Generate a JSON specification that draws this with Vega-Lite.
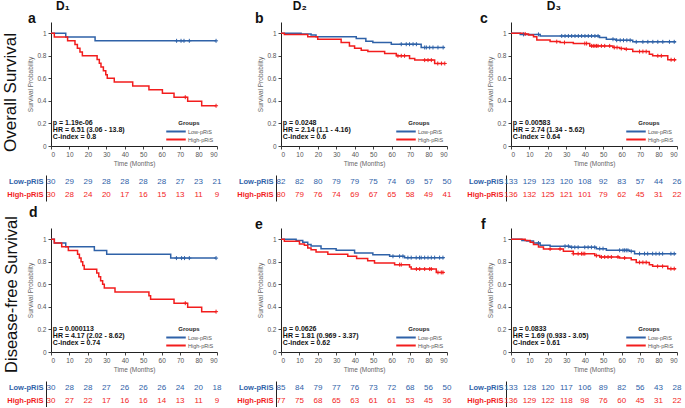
{
  "$schema": "https://vega.github.io/schema/vega-lite/v6.json",
  "padding": {"left": 0, "top": 0, "right": 0, "bottom": 0},
  "config": {
    "font": "Liberation Sans",
    "view": {"stroke": null},
    "axis": {"grid": false, "labelFontSize": 6.5, "labelColor": "#555", "titleFontSize": 6.5, "titleFontWeight": "normal", "titleColor": "#666", "domainColor": "#222", "tickColor": "#444", "tickSize": 3, "labelPadding": 2, "titlePadding": 3},
    "legend": {"orient": "bottom-right", "offset": 3, "titleFontSize": 6, "titleFontWeight": "bold", "titleColor": "#222", "labelFontSize": 5.5, "labelColor": "#555", "symbolType": "stroke", "symbolSize": 380, "symbolStrokeWidth": 2, "clipHeight": 7, "rowPadding": 1, "titlePadding": 2, "titleAnchor": "middle", "labelOffset": 1, "padding": 0},
    "title": {"color": "#111"}
  },
  "datasets": {
    "km": [
      {"p":"a","g":"Low-pRiS","t":0,"s":1},{"p":"a","g":"Low-pRiS","t":8,"s":0.967},{"p":"a","g":"Low-pRiS","t":23.9,"s":0.933},{"p":"a","g":"Low-pRiS","t":89.5,"s":0.933},
      {"p":"a","g":"High-pRiS","t":0,"s":1},{"p":"a","g":"High-pRiS","t":1.8,"s":0.967},{"p":"a","g":"High-pRiS","t":9,"s":0.933},{"p":"a","g":"High-pRiS","t":13,"s":0.9},{"p":"a","g":"High-pRiS","t":14.3,"s":0.867},{"p":"a","g":"High-pRiS","t":15.7,"s":0.833},{"p":"a","g":"High-pRiS","t":17,"s":0.8},{"p":"a","g":"High-pRiS","t":25,"s":0.767},{"p":"a","g":"High-pRiS","t":26.2,"s":0.733},{"p":"a","g":"High-pRiS","t":27.1,"s":0.7},{"p":"a","g":"High-pRiS","t":28.4,"s":0.667},{"p":"a","g":"High-pRiS","t":29.7,"s":0.633},{"p":"a","g":"High-pRiS","t":30.5,"s":0.6},{"p":"a","g":"High-pRiS","t":34.3,"s":0.567},{"p":"a","g":"High-pRiS","t":44.3,"s":0.533},{"p":"a","g":"High-pRiS","t":53.1,"s":0.5},{"p":"a","g":"High-pRiS","t":60.4,"s":0.467},{"p":"a","g":"High-pRiS","t":66.7,"s":0.433},{"p":"a","g":"High-pRiS","t":74.1,"s":0.397},{"p":"a","g":"High-pRiS","t":81.7,"s":0.357},{"p":"a","g":"High-pRiS","t":89.5,"s":0.357},
      {"p":"d","g":"Low-pRiS","t":0,"s":1},{"p":"d","g":"Low-pRiS","t":1.8,"s":0.967},{"p":"d","g":"Low-pRiS","t":8,"s":0.933},{"p":"d","g":"Low-pRiS","t":23.5,"s":0.9},{"p":"d","g":"Low-pRiS","t":30.2,"s":0.867},{"p":"d","g":"Low-pRiS","t":64.9,"s":0.833},{"p":"d","g":"Low-pRiS","t":89.5,"s":0.833},
      {"p":"d","g":"High-pRiS","t":0,"s":1},{"p":"d","g":"High-pRiS","t":1.8,"s":0.967},{"p":"d","g":"High-pRiS","t":5.8,"s":0.933},{"p":"d","g":"High-pRiS","t":9.4,"s":0.9},{"p":"d","g":"High-pRiS","t":14.4,"s":0.867},{"p":"d","g":"High-pRiS","t":15.4,"s":0.833},{"p":"d","g":"High-pRiS","t":16.3,"s":0.8},{"p":"d","g":"High-pRiS","t":17.2,"s":0.767},{"p":"d","g":"High-pRiS","t":18,"s":0.733},{"p":"d","g":"High-pRiS","t":24.8,"s":0.7},{"p":"d","g":"High-pRiS","t":25.9,"s":0.667},{"p":"d","g":"High-pRiS","t":26.9,"s":0.633},{"p":"d","g":"High-pRiS","t":28,"s":0.6},{"p":"d","g":"High-pRiS","t":28.9,"s":0.567},{"p":"d","g":"High-pRiS","t":34.7,"s":0.533},{"p":"d","g":"High-pRiS","t":53.1,"s":0.5},{"p":"d","g":"High-pRiS","t":54,"s":0.467},{"p":"d","g":"High-pRiS","t":66.7,"s":0.433},{"p":"d","g":"High-pRiS","t":74.1,"s":0.397},{"p":"d","g":"High-pRiS","t":81.7,"s":0.358},{"p":"d","g":"High-pRiS","t":89.5,"s":0.358},
      {"p":"b","g":"Low-pRiS","t":0,"s":1},{"p":"b","g":"Low-pRiS","t":10.9,"s":0.994},{"p":"b","g":"Low-pRiS","t":16.3,"s":0.985},{"p":"b","g":"Low-pRiS","t":19,"s":0.97},{"p":"b","g":"Low-pRiS","t":40.8,"s":0.953},{"p":"b","g":"Low-pRiS","t":46,"s":0.93},{"p":"b","g":"Low-pRiS","t":49.8,"s":0.918},{"p":"b","g":"Low-pRiS","t":59.8,"s":0.903},{"p":"b","g":"Low-pRiS","t":76,"s":0.874},{"p":"b","g":"Low-pRiS","t":88.8,"s":0.874},
      {"p":"b","g":"High-pRiS","t":0,"s":1},{"p":"b","g":"High-pRiS","t":1.8,"s":0.99},{"p":"b","g":"High-pRiS","t":14.5,"s":0.97},{"p":"b","g":"High-pRiS","t":19.9,"s":0.947},{"p":"b","g":"High-pRiS","t":32.6,"s":0.918},{"p":"b","g":"High-pRiS","t":37.1,"s":0.888},{"p":"b","g":"High-pRiS","t":39.9,"s":0.868},{"p":"b","g":"High-pRiS","t":43.5,"s":0.85},{"p":"b","g":"High-pRiS","t":47.1,"s":0.838},{"p":"b","g":"High-pRiS","t":56.2,"s":0.82},{"p":"b","g":"High-pRiS","t":62.5,"s":0.8},{"p":"b","g":"High-pRiS","t":69.7,"s":0.776},{"p":"b","g":"High-pRiS","t":72.5,"s":0.762},{"p":"b","g":"High-pRiS","t":83.3,"s":0.732},{"p":"b","g":"High-pRiS","t":88.8,"s":0.732},
      {"p":"e","g":"Low-pRiS","t":0,"s":1},{"p":"e","g":"Low-pRiS","t":8.2,"s":0.99},{"p":"e","g":"Low-pRiS","t":11.8,"s":0.973},{"p":"e","g":"Low-pRiS","t":14.5,"s":0.953},{"p":"e","g":"Low-pRiS","t":16.3,"s":0.94},{"p":"e","g":"Low-pRiS","t":21.7,"s":0.917},{"p":"e","g":"Low-pRiS","t":29.9,"s":0.902},{"p":"e","g":"Low-pRiS","t":39.9,"s":0.878},{"p":"e","g":"Low-pRiS","t":49.8,"s":0.863},{"p":"e","g":"Low-pRiS","t":58.9,"s":0.849},{"p":"e","g":"Low-pRiS","t":67,"s":0.837},{"p":"e","g":"Low-pRiS","t":88.5,"s":0.837},
      {"p":"e","g":"High-pRiS","t":0,"s":1},{"p":"e","g":"High-pRiS","t":1.8,"s":0.982},{"p":"e","g":"High-pRiS","t":10,"s":0.958},{"p":"e","g":"High-pRiS","t":12.7,"s":0.947},{"p":"e","g":"High-pRiS","t":14.5,"s":0.923},{"p":"e","g":"High-pRiS","t":16.3,"s":0.908},{"p":"e","g":"High-pRiS","t":19,"s":0.887},{"p":"e","g":"High-pRiS","t":25.4,"s":0.868},{"p":"e","g":"High-pRiS","t":36.2,"s":0.85},{"p":"e","g":"High-pRiS","t":41,"s":0.83},{"p":"e","g":"High-pRiS","t":47,"s":0.81},{"p":"e","g":"High-pRiS","t":50.7,"s":0.79},{"p":"e","g":"High-pRiS","t":61.6,"s":0.775},{"p":"e","g":"High-pRiS","t":69.7,"s":0.754},{"p":"e","g":"High-pRiS","t":70.6,"s":0.736},{"p":"e","g":"High-pRiS","t":84.2,"s":0.706},{"p":"e","g":"High-pRiS","t":88.5,"s":0.706},
      {"p":"c","g":"Low-pRiS","t":0,"s":1},{"p":"c","g":"Low-pRiS","t":5,"s":0.99},{"p":"c","g":"Low-pRiS","t":15.8,"s":0.976},{"p":"c","g":"Low-pRiS","t":48,"s":0.962},{"p":"c","g":"Low-pRiS","t":51.7,"s":0.947},{"p":"c","g":"Low-pRiS","t":57,"s":0.938},{"p":"c","g":"Low-pRiS","t":66,"s":0.924},{"p":"c","g":"Low-pRiS","t":89.5,"s":0.924},
      {"p":"c","g":"High-pRiS","t":0,"s":1},{"p":"c","g":"High-pRiS","t":6.8,"s":0.994},{"p":"c","g":"High-pRiS","t":9.5,"s":0.985},{"p":"c","g":"High-pRiS","t":12.2,"s":0.97},{"p":"c","g":"High-pRiS","t":14,"s":0.94},{"p":"c","g":"High-pRiS","t":21.2,"s":0.926},{"p":"c","g":"High-pRiS","t":26.6,"s":0.918},{"p":"c","g":"High-pRiS","t":33.8,"s":0.909},{"p":"c","g":"High-pRiS","t":42.7,"s":0.888},{"p":"c","g":"High-pRiS","t":55.3,"s":0.874},{"p":"c","g":"High-pRiS","t":58.9,"s":0.865},{"p":"c","g":"High-pRiS","t":61.6,"s":0.859},{"p":"c","g":"High-pRiS","t":66,"s":0.838},{"p":"c","g":"High-pRiS","t":75,"s":0.815},{"p":"c","g":"High-pRiS","t":76.8,"s":0.8},{"p":"c","g":"High-pRiS","t":85,"s":0.765},{"p":"c","g":"High-pRiS","t":89.5,"s":0.765},
      {"p":"f","g":"Low-pRiS","t":0,"s":1},{"p":"f","g":"Low-pRiS","t":5.9,"s":0.99},{"p":"f","g":"Low-pRiS","t":8.6,"s":0.985},{"p":"f","g":"Low-pRiS","t":12.2,"s":0.967},{"p":"f","g":"Low-pRiS","t":15.8,"s":0.947},{"p":"f","g":"Low-pRiS","t":21.2,"s":0.938},{"p":"f","g":"Low-pRiS","t":32,"s":0.929},{"p":"f","g":"Low-pRiS","t":46.3,"s":0.917},{"p":"f","g":"Low-pRiS","t":51.7,"s":0.902},{"p":"f","g":"Low-pRiS","t":64.3,"s":0.893},{"p":"f","g":"Low-pRiS","t":67,"s":0.872},{"p":"f","g":"Low-pRiS","t":89.5,"s":0.872},
      {"p":"f","g":"High-pRiS","t":0,"s":1},{"p":"f","g":"High-pRiS","t":7.7,"s":0.99},{"p":"f","g":"High-pRiS","t":10.4,"s":0.973},{"p":"f","g":"High-pRiS","t":12.2,"s":0.953},{"p":"f","g":"High-pRiS","t":14.9,"s":0.932},{"p":"f","g":"High-pRiS","t":17.6,"s":0.914},{"p":"f","g":"High-pRiS","t":28.4,"s":0.893},{"p":"f","g":"High-pRiS","t":33.8,"s":0.872},{"p":"f","g":"High-pRiS","t":45.4,"s":0.855},{"p":"f","g":"High-pRiS","t":48.1,"s":0.843},{"p":"f","g":"High-pRiS","t":58.9,"s":0.834},{"p":"f","g":"High-pRiS","t":65.2,"s":0.819},{"p":"f","g":"High-pRiS","t":67.9,"s":0.795},{"p":"f","g":"High-pRiS","t":75,"s":0.774},{"p":"f","g":"High-pRiS","t":76.8,"s":0.76},{"p":"f","g":"High-pRiS","t":85,"s":0.739},{"p":"f","g":"High-pRiS","t":89.5,"s":0.739}
    ],
    "cens": [
      {"p":"a","g":"Low-pRiS","t":68.1,"s":0.933},{"p":"a","g":"Low-pRiS","t":70.5,"s":0.933},{"p":"a","g":"Low-pRiS","t":72.1,"s":0.933},{"p":"a","g":"Low-pRiS","t":75,"s":0.933},{"p":"a","g":"Low-pRiS","t":89.5,"s":0.933},
      {"p":"a","g":"High-pRiS","t":72.8,"s":0.433},{"p":"a","g":"High-pRiS","t":89.5,"s":0.357},
      {"p":"d","g":"Low-pRiS","t":68,"s":0.833},{"p":"d","g":"Low-pRiS","t":70.8,"s":0.833},{"p":"d","g":"Low-pRiS","t":72.4,"s":0.833},{"p":"d","g":"Low-pRiS","t":75,"s":0.833},{"p":"d","g":"Low-pRiS","t":89.5,"s":0.833},
      {"p":"d","g":"High-pRiS","t":72.8,"s":0.433},{"p":"d","g":"High-pRiS","t":89.5,"s":0.358},
      {"p":"b","g":"Low-pRiS","t":65.2,"s":0.903},{"p":"b","g":"Low-pRiS","t":67.9,"s":0.903},{"p":"b","g":"Low-pRiS","t":69.7,"s":0.903},{"p":"b","g":"Low-pRiS","t":71.6,"s":0.903},{"p":"b","g":"Low-pRiS","t":73.4,"s":0.903},{"p":"b","g":"Low-pRiS","t":77.9,"s":0.874},{"p":"b","g":"Low-pRiS","t":78.8,"s":0.874},{"p":"b","g":"Low-pRiS","t":80.6,"s":0.874},{"p":"b","g":"Low-pRiS","t":82.4,"s":0.874},{"p":"b","g":"Low-pRiS","t":85.1,"s":0.874},{"p":"b","g":"Low-pRiS","t":87.9,"s":0.874},
      {"p":"b","g":"High-pRiS","t":63.4,"s":0.8},{"p":"b","g":"High-pRiS","t":65.2,"s":0.8},{"p":"b","g":"High-pRiS","t":67,"s":0.8},{"p":"b","g":"High-pRiS","t":77.9,"s":0.762},{"p":"b","g":"High-pRiS","t":79.7,"s":0.762},{"p":"b","g":"High-pRiS","t":81.5,"s":0.762},{"p":"b","g":"High-pRiS","t":85,"s":0.732},{"p":"b","g":"High-pRiS","t":87,"s":0.732},{"p":"b","g":"High-pRiS","t":88.8,"s":0.732},
      {"p":"e","g":"Low-pRiS","t":60.7,"s":0.849},{"p":"e","g":"Low-pRiS","t":64.3,"s":0.849},{"p":"e","g":"Low-pRiS","t":66.1,"s":0.849},{"p":"e","g":"Low-pRiS","t":68.8,"s":0.837},{"p":"e","g":"Low-pRiS","t":70.6,"s":0.837},{"p":"e","g":"Low-pRiS","t":73.3,"s":0.837},{"p":"e","g":"Low-pRiS","t":75.1,"s":0.837},{"p":"e","g":"Low-pRiS","t":76,"s":0.837},{"p":"e","g":"Low-pRiS","t":77.9,"s":0.837},{"p":"e","g":"Low-pRiS","t":79.7,"s":0.837},{"p":"e","g":"Low-pRiS","t":81.5,"s":0.837},{"p":"e","g":"Low-pRiS","t":83.3,"s":0.837},{"p":"e","g":"Low-pRiS","t":86,"s":0.837},{"p":"e","g":"Low-pRiS","t":87.8,"s":0.837},
      {"p":"e","g":"High-pRiS","t":64.3,"s":0.775},{"p":"e","g":"High-pRiS","t":65.2,"s":0.775},{"p":"e","g":"High-pRiS","t":73.4,"s":0.736},{"p":"e","g":"High-pRiS","t":75.2,"s":0.736},{"p":"e","g":"High-pRiS","t":77.9,"s":0.736},{"p":"e","g":"High-pRiS","t":80.6,"s":0.736},{"p":"e","g":"High-pRiS","t":81.5,"s":0.736},{"p":"e","g":"High-pRiS","t":85.1,"s":0.706},{"p":"e","g":"High-pRiS","t":86.9,"s":0.706},{"p":"e","g":"High-pRiS","t":87.8,"s":0.706},
      {"p":"c","g":"Low-pRiS","t":6.8,"s":0.99},{"p":"c","g":"Low-pRiS","t":14.9,"s":0.99},{"p":"c","g":"Low-pRiS","t":27.5,"s":0.976},{"p":"c","g":"Low-pRiS","t":29.3,"s":0.976},{"p":"c","g":"Low-pRiS","t":31.1,"s":0.976},{"p":"c","g":"Low-pRiS","t":32.9,"s":0.976},{"p":"c","g":"Low-pRiS","t":34.7,"s":0.976},{"p":"c","g":"Low-pRiS","t":36.5,"s":0.976},{"p":"c","g":"Low-pRiS","t":38.3,"s":0.976},{"p":"c","g":"Low-pRiS","t":40.1,"s":0.976},{"p":"c","g":"Low-pRiS","t":41.9,"s":0.976},{"p":"c","g":"Low-pRiS","t":43.7,"s":0.976},{"p":"c","g":"Low-pRiS","t":45.5,"s":0.976},{"p":"c","g":"Low-pRiS","t":47.2,"s":0.976},{"p":"c","g":"Low-pRiS","t":55.3,"s":0.947},{"p":"c","g":"Low-pRiS","t":57.3,"s":0.938},{"p":"c","g":"Low-pRiS","t":59.2,"s":0.938},{"p":"c","g":"Low-pRiS","t":61,"s":0.938},{"p":"c","g":"Low-pRiS","t":62.8,"s":0.938},{"p":"c","g":"Low-pRiS","t":64.6,"s":0.938},{"p":"c","g":"Low-pRiS","t":67.9,"s":0.924},{"p":"c","g":"Low-pRiS","t":71.5,"s":0.924},{"p":"c","g":"Low-pRiS","t":74.2,"s":0.924},{"p":"c","g":"Low-pRiS","t":76.9,"s":0.924},{"p":"c","g":"Low-pRiS","t":79.6,"s":0.924},{"p":"c","g":"Low-pRiS","t":82.3,"s":0.924},{"p":"c","g":"Low-pRiS","t":85.9,"s":0.924},{"p":"c","g":"Low-pRiS","t":88.5,"s":0.924},
      {"p":"c","g":"High-pRiS","t":7.7,"s":0.994},{"p":"c","g":"High-pRiS","t":24.8,"s":0.926},{"p":"c","g":"High-pRiS","t":29,"s":0.918},{"p":"c","g":"High-pRiS","t":40,"s":0.909},{"p":"c","g":"High-pRiS","t":41,"s":0.909},{"p":"c","g":"High-pRiS","t":43.7,"s":0.888},{"p":"c","g":"High-pRiS","t":44.6,"s":0.888},{"p":"c","g":"High-pRiS","t":45.5,"s":0.888},{"p":"c","g":"High-pRiS","t":46.4,"s":0.888},{"p":"c","g":"High-pRiS","t":47.2,"s":0.888},{"p":"c","g":"High-pRiS","t":49,"s":0.888},{"p":"c","g":"High-pRiS","t":50.8,"s":0.888},{"p":"c","g":"High-pRiS","t":53.5,"s":0.888},{"p":"c","g":"High-pRiS","t":56,"s":0.874},{"p":"c","g":"High-pRiS","t":57.5,"s":0.874},{"p":"c","g":"High-pRiS","t":59.8,"s":0.865},{"p":"c","g":"High-pRiS","t":62.5,"s":0.859},{"p":"c","g":"High-pRiS","t":69.7,"s":0.838},{"p":"c","g":"High-pRiS","t":71.5,"s":0.838},{"p":"c","g":"High-pRiS","t":73.3,"s":0.838},{"p":"c","g":"High-pRiS","t":79.6,"s":0.8},{"p":"c","g":"High-pRiS","t":81.5,"s":0.8},{"p":"c","g":"High-pRiS","t":86.8,"s":0.765},{"p":"c","g":"High-pRiS","t":88.6,"s":0.765},
      {"p":"f","g":"Low-pRiS","t":14.9,"s":0.967},{"p":"f","g":"Low-pRiS","t":29.3,"s":0.938},{"p":"f","g":"Low-pRiS","t":31.1,"s":0.938},{"p":"f","g":"Low-pRiS","t":32.9,"s":0.929},{"p":"f","g":"Low-pRiS","t":34.6,"s":0.929},{"p":"f","g":"Low-pRiS","t":36.4,"s":0.929},{"p":"f","g":"Low-pRiS","t":40,"s":0.929},{"p":"f","g":"Low-pRiS","t":41.8,"s":0.929},{"p":"f","g":"Low-pRiS","t":43.6,"s":0.929},{"p":"f","g":"Low-pRiS","t":45.4,"s":0.929},{"p":"f","g":"Low-pRiS","t":48.1,"s":0.917},{"p":"f","g":"Low-pRiS","t":49.9,"s":0.917},{"p":"f","g":"Low-pRiS","t":58.9,"s":0.902},{"p":"f","g":"Low-pRiS","t":60.7,"s":0.902},{"p":"f","g":"Low-pRiS","t":61.6,"s":0.902},{"p":"f","g":"Low-pRiS","t":62.5,"s":0.902},{"p":"f","g":"Low-pRiS","t":63.4,"s":0.902},{"p":"f","g":"Low-pRiS","t":65.2,"s":0.893},{"p":"f","g":"Low-pRiS","t":69.7,"s":0.872},{"p":"f","g":"Low-pRiS","t":72.4,"s":0.872},{"p":"f","g":"Low-pRiS","t":74.1,"s":0.872},{"p":"f","g":"Low-pRiS","t":76.8,"s":0.872},{"p":"f","g":"Low-pRiS","t":78.6,"s":0.872},{"p":"f","g":"Low-pRiS","t":80.4,"s":0.872},{"p":"f","g":"Low-pRiS","t":82.2,"s":0.872},{"p":"f","g":"Low-pRiS","t":86.7,"s":0.872},{"p":"f","g":"Low-pRiS","t":88.5,"s":0.872},
      {"p":"f","g":"High-pRiS","t":21.2,"s":0.914},{"p":"f","g":"High-pRiS","t":26.6,"s":0.914},{"p":"f","g":"High-pRiS","t":33.8,"s":0.872},{"p":"f","g":"High-pRiS","t":36.4,"s":0.872},{"p":"f","g":"High-pRiS","t":38.2,"s":0.872},{"p":"f","g":"High-pRiS","t":39.1,"s":0.872},{"p":"f","g":"High-pRiS","t":40,"s":0.872},{"p":"f","g":"High-pRiS","t":46.3,"s":0.855},{"p":"f","g":"High-pRiS","t":49,"s":0.843},{"p":"f","g":"High-pRiS","t":50.8,"s":0.843},{"p":"f","g":"High-pRiS","t":52.6,"s":0.843},{"p":"f","g":"High-pRiS","t":54.4,"s":0.843},{"p":"f","g":"High-pRiS","t":58,"s":0.843},{"p":"f","g":"High-pRiS","t":61.6,"s":0.834},{"p":"f","g":"High-pRiS","t":69.7,"s":0.795},{"p":"f","g":"High-pRiS","t":71.5,"s":0.795},{"p":"f","g":"High-pRiS","t":73.3,"s":0.795},{"p":"f","g":"High-pRiS","t":79.5,"s":0.76},{"p":"f","g":"High-pRiS","t":82.2,"s":0.76},{"p":"f","g":"High-pRiS","t":86.7,"s":0.739},{"p":"f","g":"High-pRiS","t":88.5,"s":0.739}
    ],
    "stats": [
      {"p":"a","label":"p = 1.19e-06","t":1,"s":0.2},{"p":"a","label":"HR = 6.51 (3.06 - 13.8)","t":1,"s":0.14},{"p":"a","label":"C-index = 0.8","t":1,"s":0.08},
      {"p":"b","label":"p = 0.0248","t":1,"s":0.2},{"p":"b","label":"HR = 2.14 (1.1 - 4.16)","t":1,"s":0.14},{"p":"b","label":"C-index = 0.6","t":1,"s":0.08},
      {"p":"c","label":"p = 0.00583","t":1,"s":0.2},{"p":"c","label":"HR = 2.74 (1.34 - 5.62)","t":1,"s":0.14},{"p":"c","label":"C-index = 0.64","t":1,"s":0.08},
      {"p":"d","label":"p = 0.000113","t":1,"s":0.2},{"p":"d","label":"HR = 4.17 (2.02 - 8.62)","t":1,"s":0.14},{"p":"d","label":"C-index = 0.74","t":1,"s":0.08},
      {"p":"e","label":"p = 0.0626","t":1,"s":0.2},{"p":"e","label":"HR = 1.81 (0.969 - 3.37)","t":1,"s":0.14},{"p":"e","label":"C-index = 0.62","t":1,"s":0.08},
      {"p":"f","label":"p = 0.0833","t":1,"s":0.2},{"p":"f","label":"HR = 1.69 (0.933 - 3.05)","t":1,"s":0.14},{"p":"f","label":"C-index = 0.61","t":1,"s":0.08}
    ],
    "risk": [
      {"p":"a","g":"Low-pRiS","t":0,"n":30},{"p":"a","g":"Low-pRiS","t":10,"n":29},{"p":"a","g":"Low-pRiS","t":20,"n":29},{"p":"a","g":"Low-pRiS","t":30,"n":28},{"p":"a","g":"Low-pRiS","t":40,"n":28},{"p":"a","g":"Low-pRiS","t":50,"n":28},{"p":"a","g":"Low-pRiS","t":60,"n":28},{"p":"a","g":"Low-pRiS","t":70,"n":27},{"p":"a","g":"Low-pRiS","t":80,"n":23},{"p":"a","g":"Low-pRiS","t":90,"n":21},
      {"p":"a","g":"High-pRiS","t":0,"n":30},{"p":"a","g":"High-pRiS","t":10,"n":28},{"p":"a","g":"High-pRiS","t":20,"n":24},{"p":"a","g":"High-pRiS","t":30,"n":20},{"p":"a","g":"High-pRiS","t":40,"n":17},{"p":"a","g":"High-pRiS","t":50,"n":16},{"p":"a","g":"High-pRiS","t":60,"n":15},{"p":"a","g":"High-pRiS","t":70,"n":13},{"p":"a","g":"High-pRiS","t":80,"n":11},{"p":"a","g":"High-pRiS","t":90,"n":9},
      {"p":"b","g":"Low-pRiS","t":0,"n":82},{"p":"b","g":"Low-pRiS","t":10,"n":82},{"p":"b","g":"Low-pRiS","t":20,"n":80},{"p":"b","g":"Low-pRiS","t":30,"n":79},{"p":"b","g":"Low-pRiS","t":40,"n":79},{"p":"b","g":"Low-pRiS","t":50,"n":75},{"p":"b","g":"Low-pRiS","t":60,"n":74},{"p":"b","g":"Low-pRiS","t":70,"n":69},{"p":"b","g":"Low-pRiS","t":80,"n":57},{"p":"b","g":"Low-pRiS","t":90,"n":50},
      {"p":"b","g":"High-pRiS","t":0,"n":80},{"p":"b","g":"High-pRiS","t":10,"n":79},{"p":"b","g":"High-pRiS","t":20,"n":76},{"p":"b","g":"High-pRiS","t":30,"n":74},{"p":"b","g":"High-pRiS","t":40,"n":69},{"p":"b","g":"High-pRiS","t":50,"n":67},{"p":"b","g":"High-pRiS","t":60,"n":65},{"p":"b","g":"High-pRiS","t":70,"n":58},{"p":"b","g":"High-pRiS","t":80,"n":49},{"p":"b","g":"High-pRiS","t":90,"n":41},
      {"p":"c","g":"Low-pRiS","t":0,"n":133},{"p":"c","g":"Low-pRiS","t":10,"n":129},{"p":"c","g":"Low-pRiS","t":20,"n":123},{"p":"c","g":"Low-pRiS","t":30,"n":120},{"p":"c","g":"Low-pRiS","t":40,"n":108},{"p":"c","g":"Low-pRiS","t":50,"n":92},{"p":"c","g":"Low-pRiS","t":60,"n":83},{"p":"c","g":"Low-pRiS","t":70,"n":57},{"p":"c","g":"Low-pRiS","t":80,"n":44},{"p":"c","g":"Low-pRiS","t":90,"n":26},
      {"p":"c","g":"High-pRiS","t":0,"n":136},{"p":"c","g":"High-pRiS","t":10,"n":132},{"p":"c","g":"High-pRiS","t":20,"n":125},{"p":"c","g":"High-pRiS","t":30,"n":121},{"p":"c","g":"High-pRiS","t":40,"n":101},{"p":"c","g":"High-pRiS","t":50,"n":79},{"p":"c","g":"High-pRiS","t":60,"n":62},{"p":"c","g":"High-pRiS","t":70,"n":45},{"p":"c","g":"High-pRiS","t":80,"n":31},{"p":"c","g":"High-pRiS","t":90,"n":22},
      {"p":"d","g":"Low-pRiS","t":0,"n":30},{"p":"d","g":"Low-pRiS","t":10,"n":28},{"p":"d","g":"Low-pRiS","t":20,"n":28},{"p":"d","g":"Low-pRiS","t":30,"n":27},{"p":"d","g":"Low-pRiS","t":40,"n":26},{"p":"d","g":"Low-pRiS","t":50,"n":26},{"p":"d","g":"Low-pRiS","t":60,"n":26},{"p":"d","g":"Low-pRiS","t":70,"n":24},{"p":"d","g":"Low-pRiS","t":80,"n":20},{"p":"d","g":"Low-pRiS","t":90,"n":18},
      {"p":"d","g":"High-pRiS","t":0,"n":30},{"p":"d","g":"High-pRiS","t":10,"n":27},{"p":"d","g":"High-pRiS","t":20,"n":22},{"p":"d","g":"High-pRiS","t":30,"n":17},{"p":"d","g":"High-pRiS","t":40,"n":16},{"p":"d","g":"High-pRiS","t":50,"n":16},{"p":"d","g":"High-pRiS","t":60,"n":14},{"p":"d","g":"High-pRiS","t":70,"n":13},{"p":"d","g":"High-pRiS","t":80,"n":11},{"p":"d","g":"High-pRiS","t":90,"n":9},
      {"p":"e","g":"Low-pRiS","t":0,"n":85},{"p":"e","g":"Low-pRiS","t":10,"n":84},{"p":"e","g":"Low-pRiS","t":20,"n":79},{"p":"e","g":"Low-pRiS","t":30,"n":77},{"p":"e","g":"Low-pRiS","t":40,"n":76},{"p":"e","g":"Low-pRiS","t":50,"n":73},{"p":"e","g":"Low-pRiS","t":60,"n":72},{"p":"e","g":"Low-pRiS","t":70,"n":68},{"p":"e","g":"Low-pRiS","t":80,"n":56},{"p":"e","g":"Low-pRiS","t":90,"n":50},
      {"p":"e","g":"High-pRiS","t":0,"n":77},{"p":"e","g":"High-pRiS","t":10,"n":75},{"p":"e","g":"High-pRiS","t":20,"n":68},{"p":"e","g":"High-pRiS","t":30,"n":65},{"p":"e","g":"High-pRiS","t":40,"n":63},{"p":"e","g":"High-pRiS","t":50,"n":61},{"p":"e","g":"High-pRiS","t":60,"n":61},{"p":"e","g":"High-pRiS","t":70,"n":53},{"p":"e","g":"High-pRiS","t":80,"n":45},{"p":"e","g":"High-pRiS","t":90,"n":36},
      {"p":"f","g":"Low-pRiS","t":0,"n":133},{"p":"f","g":"Low-pRiS","t":10,"n":128},{"p":"f","g":"Low-pRiS","t":20,"n":120},{"p":"f","g":"Low-pRiS","t":30,"n":117},{"p":"f","g":"Low-pRiS","t":40,"n":106},{"p":"f","g":"Low-pRiS","t":50,"n":89},{"p":"f","g":"Low-pRiS","t":60,"n":82},{"p":"f","g":"Low-pRiS","t":70,"n":56},{"p":"f","g":"Low-pRiS","t":80,"n":43},{"p":"f","g":"Low-pRiS","t":90,"n":28},
      {"p":"f","g":"High-pRiS","t":0,"n":136},{"p":"f","g":"High-pRiS","t":10,"n":129},{"p":"f","g":"High-pRiS","t":20,"n":122},{"p":"f","g":"High-pRiS","t":30,"n":118},{"p":"f","g":"High-pRiS","t":40,"n":98},{"p":"f","g":"High-pRiS","t":50,"n":76},{"p":"f","g":"High-pRiS","t":60,"n":60},{"p":"f","g":"High-pRiS","t":70,"n":45},{"p":"f","g":"High-pRiS","t":80,"n":31},{"p":"f","g":"High-pRiS","t":90,"n":22}
    ]
  },
  "resolve": {"scale": {"color": "independent"}, "legend": {"color": "independent"}},
  "spacing": 4,
  "vconcat": [
    {
      "spacing": 14,
      "resolve": {"scale": {"color": "independent"}, "legend": {"color": "independent"}},
      "hconcat": [
        {
          "title": {"text": "D₁", "anchor": "start", "dx": 55, "fontSize": 12, "fontWeight": "bold", "offset": -1},
          "spacing": 8,
          "resolve": {"scale": {"color": "independent"}, "legend": {"color": "independent"}},
          "vconcat": [
            {
              "title": {"text": "a", "anchor": "start", "frame": "group", "dx": -23, "fontSize": 14, "fontWeight": "bold", "offset": -4},
              "width": 166, "height": 124,
              "resolve": {"scale": {"y": "independent"}},
              "layer": [
                {
                  "encoding": {
                    "x": {"field": "t", "type": "quantitative", "scale": {"domain": [0, 90], "nice": false}, "axis": {"values": [0,10,20,30,40,50,60,70,80,90], "title": "Time (Months)"}},
                    "y": {"field": "s", "type": "quantitative", "scale": {"domain": [0, 1.1], "nice": false}, "axis": {"values": [0,0.2,0.4,0.6,0.8,1], "format": "~g", "title": "Survival Probability"}}
                  },
                  "layer": [
                    {"data": {"name": "km"}, "transform": [{"filter": "datum.p === 'a'"}], "mark": {"type": "line", "interpolate": "step-after", "strokeWidth": 1.5}, "encoding": {"color": {"field": "g", "type": "nominal", "title": "Groups", "scale": {"domain": ["Low-pRiS", "High-pRiS"], "range": ["#2F62A8", "#F21D1D"]}, "legend": {"symbolType": "stroke"}}}},
                    {"data": {"name": "cens"}, "transform": [{"filter": "datum.p === 'a'"}], "mark": {"type": "point", "shape": "M0,-1L0,1M-1,0L1,0", "size": 16, "strokeWidth": 1, "filled": false, "opacity": 1}, "encoding": {"color": {"field": "g", "type": "nominal", "title": "Groups", "scale": {"domain": ["Low-pRiS", "High-pRiS"], "range": ["#2F62A8", "#F21D1D"]}, "legend": {"symbolType": "stroke"}}}}
                  ]
                },
                {
                  "data": {"name": "stats"}, "transform": [{"filter": "datum.p === 'a'"}],
                  "mark": {"type": "text", "align": "left", "baseline": "middle", "fontWeight": "bold", "fontSize": 7, "color": "#111"},
                  "encoding": {
                    "x": {"field": "t", "type": "quantitative", "scale": {"domain": [0, 90], "nice": false}, "axis": {"values": [0,10,20,30,40,50,60,70,80,90], "title": "Time (Months)"}},
                    "y": {"field": "s", "type": "quantitative", "scale": {"domain": [0, 1.1], "nice": false}, "axis": {"orient": "left", "title": "Overall Survival", "labels": false, "ticks": false, "domain": false, "titleFontSize": 17, "titleColor": "#111", "titlePadding": 32, "titleY": 70}},
                    "text": {"field": "label"}
                  }
                }
              ]
            },
            {
              "width": 166, "height": 26,
              "data": {"name": "risk"}, "transform": [{"filter": "datum.p === 'a'"}],
              "mark": {"type": "text", "fontSize": 8},
              "encoding": {
                "x": {"field": "t", "type": "quantitative", "scale": {"domain": [0, 90], "nice": false}, "axis": null},
                "y": {"field": "g", "type": "nominal", "sort": ["Low-pRiS", "High-pRiS"], "axis": {"title": null, "ticks": false, "offset": 5, "labelFontWeight": "bold", "labelFontSize": 7.5, "labelPadding": 3, "domainColor": "#222", "labelColor": {"condition": {"test": "datum.value === 'Low-pRiS'", "value": "#2F62A8"}, "value": "#F21D1D"}}},
                "text": {"field": "n"},
                "color": {"field": "g", "type": "nominal", "scale": {"domain": ["Low-pRiS", "High-pRiS"], "range": ["#2F62A8", "#F21D1D"]}, "legend": null}
              }
            }
          ]
        },
        {
          "title": {"text": "D₂", "anchor": "start", "dx": 56, "fontSize": 12, "fontWeight": "bold", "offset": -1},
          "spacing": 8,
          "resolve": {"scale": {"color": "independent"}, "legend": {"color": "independent"}},
          "vconcat": [
            {
              "title": {"text": "b", "anchor": "start", "frame": "group", "dx": -26, "fontSize": 14, "fontWeight": "bold", "offset": -4},
              "width": 166, "height": 124,
              "encoding": {
                "x": {"field": "t", "type": "quantitative", "scale": {"domain": [0, 90], "nice": false}, "axis": {"values": [0,10,20,30,40,50,60,70,80,90], "title": "Time (Months)"}},
                "y": {"field": "s", "type": "quantitative", "scale": {"domain": [0, 1.1], "nice": false}, "axis": {"values": [0,0.2,0.4,0.6,0.8,1], "format": "~g", "title": "Survival Probability"}}
              },
              "layer": [
                {"data": {"name": "km"}, "transform": [{"filter": "datum.p === 'b'"}], "mark": {"type": "line", "interpolate": "step-after", "strokeWidth": 1.5}, "encoding": {"color": {"field": "g", "type": "nominal", "title": "Groups", "scale": {"domain": ["Low-pRiS", "High-pRiS"], "range": ["#2F62A8", "#F21D1D"]}, "legend": {"symbolType": "stroke"}}}},
                {"data": {"name": "cens"}, "transform": [{"filter": "datum.p === 'b'"}], "mark": {"type": "point", "shape": "M0,-1L0,1M-1,0L1,0", "size": 16, "strokeWidth": 1, "filled": false, "opacity": 1}, "encoding": {"color": {"field": "g", "type": "nominal", "title": "Groups", "scale": {"domain": ["Low-pRiS", "High-pRiS"], "range": ["#2F62A8", "#F21D1D"]}, "legend": {"symbolType": "stroke"}}}},
                {"data": {"name": "stats"}, "transform": [{"filter": "datum.p === 'b'"}], "mark": {"type": "text", "align": "left", "baseline": "middle", "fontWeight": "bold", "fontSize": 7, "color": "#111"}, "encoding": {"text": {"field": "label"}}}
              ]
            },
            {
              "width": 166, "height": 26,
              "data": {"name": "risk"}, "transform": [{"filter": "datum.p === 'b'"}],
              "mark": {"type": "text", "fontSize": 8},
              "encoding": {
                "x": {"field": "t", "type": "quantitative", "scale": {"domain": [0, 90], "nice": false}, "axis": null},
                "y": {"field": "g", "type": "nominal", "sort": ["Low-pRiS", "High-pRiS"], "axis": {"title": null, "ticks": false, "offset": 5, "labelFontWeight": "bold", "labelFontSize": 7.5, "labelPadding": 3, "domainColor": "#222", "labelColor": {"condition": {"test": "datum.value === 'Low-pRiS'", "value": "#2F62A8"}, "value": "#F21D1D"}}},
                "text": {"field": "n"},
                "color": {"field": "g", "type": "nominal", "scale": {"domain": ["Low-pRiS", "High-pRiS"], "range": ["#2F62A8", "#F21D1D"]}, "legend": null}
              }
            }
          ]
        },
        {
          "title": {"text": "D₃", "anchor": "start", "dx": 80, "fontSize": 12, "fontWeight": "bold", "offset": -1},
          "spacing": 8,
          "resolve": {"scale": {"color": "independent"}, "legend": {"color": "independent"}},
          "vconcat": [
            {
              "title": {"text": "c", "anchor": "start", "frame": "group", "dx": -31, "fontSize": 14, "fontWeight": "bold", "offset": -4},
              "width": 166, "height": 124,
              "encoding": {
                "x": {"field": "t", "type": "quantitative", "scale": {"domain": [0, 90], "nice": false}, "axis": {"values": [0,10,20,30,40,50,60,70,80,90], "title": "Time (Months)"}},
                "y": {"field": "s", "type": "quantitative", "scale": {"domain": [0, 1.1], "nice": false}, "axis": {"values": [0,0.2,0.4,0.6,0.8,1], "format": "~g", "title": "Survival Probability"}}
              },
              "layer": [
                {"data": {"name": "km"}, "transform": [{"filter": "datum.p === 'c'"}], "mark": {"type": "line", "interpolate": "step-after", "strokeWidth": 1.5}, "encoding": {"color": {"field": "g", "type": "nominal", "title": "Groups", "scale": {"domain": ["Low-pRiS", "High-pRiS"], "range": ["#2F62A8", "#F21D1D"]}, "legend": {"symbolType": "stroke"}}}},
                {"data": {"name": "cens"}, "transform": [{"filter": "datum.p === 'c'"}], "mark": {"type": "point", "shape": "M0,-1L0,1M-1,0L1,0", "size": 16, "strokeWidth": 1, "filled": false, "opacity": 1}, "encoding": {"color": {"field": "g", "type": "nominal", "title": "Groups", "scale": {"domain": ["Low-pRiS", "High-pRiS"], "range": ["#2F62A8", "#F21D1D"]}, "legend": {"symbolType": "stroke"}}}},
                {"data": {"name": "stats"}, "transform": [{"filter": "datum.p === 'c'"}], "mark": {"type": "text", "align": "left", "baseline": "middle", "fontWeight": "bold", "fontSize": 7, "color": "#111"}, "encoding": {"text": {"field": "label"}}}
              ]
            },
            {
              "width": 166, "height": 26,
              "data": {"name": "risk"}, "transform": [{"filter": "datum.p === 'c'"}],
              "mark": {"type": "text", "fontSize": 8},
              "encoding": {
                "x": {"field": "t", "type": "quantitative", "scale": {"domain": [0, 90], "nice": false}, "axis": null},
                "y": {"field": "g", "type": "nominal", "sort": ["Low-pRiS", "High-pRiS"], "axis": {"title": null, "ticks": false, "offset": 5, "labelFontWeight": "bold", "labelFontSize": 7.5, "labelPadding": 3, "domainColor": "#222", "labelColor": {"condition": {"test": "datum.value === 'Low-pRiS'", "value": "#2F62A8"}, "value": "#F21D1D"}}},
                "text": {"field": "n"},
                "color": {"field": "g", "type": "nominal", "scale": {"domain": ["Low-pRiS", "High-pRiS"], "range": ["#2F62A8", "#F21D1D"]}, "legend": null}
              }
            }
          ]
        }
      ]
    },
    {
      "spacing": 14,
      "resolve": {"scale": {"color": "independent"}, "legend": {"color": "independent"}},
      "hconcat": [
        {
          "spacing": 8,
          "resolve": {"scale": {"color": "independent"}, "legend": {"color": "independent"}},
          "vconcat": [
            {
              "title": {"text": "d", "anchor": "start", "frame": "group", "dx": -22, "fontSize": 14, "fontWeight": "bold", "offset": -4},
              "width": 166, "height": 124,
              "resolve": {"scale": {"y": "independent"}},
              "layer": [
                {
                  "encoding": {
                    "x": {"field": "t", "type": "quantitative", "scale": {"domain": [0, 90], "nice": false}, "axis": {"values": [0,10,20,30,40,50,60,70,80,90], "title": "Time (Months)"}},
                    "y": {"field": "s", "type": "quantitative", "scale": {"domain": [0, 1.1], "nice": false}, "axis": {"values": [0,0.2,0.4,0.6,0.8,1], "format": "~g", "title": "Survival Probability"}}
                  },
                  "layer": [
                    {"data": {"name": "km"}, "transform": [{"filter": "datum.p === 'd'"}], "mark": {"type": "line", "interpolate": "step-after", "strokeWidth": 1.5}, "encoding": {"color": {"field": "g", "type": "nominal", "title": "Groups", "scale": {"domain": ["Low-pRiS", "High-pRiS"], "range": ["#2F62A8", "#F21D1D"]}, "legend": {"symbolType": "stroke"}}}},
                    {"data": {"name": "cens"}, "transform": [{"filter": "datum.p === 'd'"}], "mark": {"type": "point", "shape": "M0,-1L0,1M-1,0L1,0", "size": 16, "strokeWidth": 1, "filled": false, "opacity": 1}, "encoding": {"color": {"field": "g", "type": "nominal", "title": "Groups", "scale": {"domain": ["Low-pRiS", "High-pRiS"], "range": ["#2F62A8", "#F21D1D"]}, "legend": {"symbolType": "stroke"}}}}
                  ]
                },
                {
                  "data": {"name": "stats"}, "transform": [{"filter": "datum.p === 'd'"}],
                  "mark": {"type": "text", "align": "left", "baseline": "middle", "fontWeight": "bold", "fontSize": 7, "color": "#111"},
                  "encoding": {
                    "x": {"field": "t", "type": "quantitative", "scale": {"domain": [0, 90], "nice": false}, "axis": {"values": [0,10,20,30,40,50,60,70,80,90], "title": "Time (Months)"}},
                    "y": {"field": "s", "type": "quantitative", "scale": {"domain": [0, 1.1], "nice": false}, "axis": {"orient": "left", "title": "Disease-free Survival", "labels": false, "ticks": false, "domain": false, "titleFontSize": 16.5, "titleColor": "#111", "titlePadding": 32, "titleY": 66}},
                    "text": {"field": "label"}
                  }
                }
              ]
            },
            {
              "width": 166, "height": 26,
              "data": {"name": "risk"}, "transform": [{"filter": "datum.p === 'd'"}],
              "mark": {"type": "text", "fontSize": 8},
              "encoding": {
                "x": {"field": "t", "type": "quantitative", "scale": {"domain": [0, 90], "nice": false}, "axis": null},
                "y": {"field": "g", "type": "nominal", "sort": ["Low-pRiS", "High-pRiS"], "axis": {"title": null, "ticks": false, "offset": 5, "labelFontWeight": "bold", "labelFontSize": 7.5, "labelPadding": 3, "domainColor": "#222", "labelColor": {"condition": {"test": "datum.value === 'Low-pRiS'", "value": "#2F62A8"}, "value": "#F21D1D"}}},
                "text": {"field": "n"},
                "color": {"field": "g", "type": "nominal", "scale": {"domain": ["Low-pRiS", "High-pRiS"], "range": ["#2F62A8", "#F21D1D"]}, "legend": null}
              }
            }
          ]
        },
        {
          "spacing": 8,
          "resolve": {"scale": {"color": "independent"}, "legend": {"color": "independent"}},
          "vconcat": [
            {
              "title": {"text": "e", "anchor": "start", "frame": "group", "dx": -26, "fontSize": 14, "fontWeight": "bold", "offset": -4},
              "width": 166, "height": 124,
              "encoding": {
                "x": {"field": "t", "type": "quantitative", "scale": {"domain": [0, 90], "nice": false}, "axis": {"values": [0,10,20,30,40,50,60,70,80,90], "title": "Time (Months)"}},
                "y": {"field": "s", "type": "quantitative", "scale": {"domain": [0, 1.1], "nice": false}, "axis": {"values": [0,0.2,0.4,0.6,0.8,1], "format": "~g", "title": "Survival Probability"}}
              },
              "layer": [
                {"data": {"name": "km"}, "transform": [{"filter": "datum.p === 'e'"}], "mark": {"type": "line", "interpolate": "step-after", "strokeWidth": 1.5}, "encoding": {"color": {"field": "g", "type": "nominal", "title": "Groups", "scale": {"domain": ["Low-pRiS", "High-pRiS"], "range": ["#2F62A8", "#F21D1D"]}, "legend": {"symbolType": "stroke"}}}},
                {"data": {"name": "cens"}, "transform": [{"filter": "datum.p === 'e'"}], "mark": {"type": "point", "shape": "M0,-1L0,1M-1,0L1,0", "size": 16, "strokeWidth": 1, "filled": false, "opacity": 1}, "encoding": {"color": {"field": "g", "type": "nominal", "title": "Groups", "scale": {"domain": ["Low-pRiS", "High-pRiS"], "range": ["#2F62A8", "#F21D1D"]}, "legend": {"symbolType": "stroke"}}}},
                {"data": {"name": "stats"}, "transform": [{"filter": "datum.p === 'e'"}], "mark": {"type": "text", "align": "left", "baseline": "middle", "fontWeight": "bold", "fontSize": 7, "color": "#111"}, "encoding": {"text": {"field": "label"}}}
              ]
            },
            {
              "width": 166, "height": 26,
              "data": {"name": "risk"}, "transform": [{"filter": "datum.p === 'e'"}],
              "mark": {"type": "text", "fontSize": 8},
              "encoding": {
                "x": {"field": "t", "type": "quantitative", "scale": {"domain": [0, 90], "nice": false}, "axis": null},
                "y": {"field": "g", "type": "nominal", "sort": ["Low-pRiS", "High-pRiS"], "axis": {"title": null, "ticks": false, "offset": 5, "labelFontWeight": "bold", "labelFontSize": 7.5, "labelPadding": 3, "domainColor": "#222", "labelColor": {"condition": {"test": "datum.value === 'Low-pRiS'", "value": "#2F62A8"}, "value": "#F21D1D"}}},
                "text": {"field": "n"},
                "color": {"field": "g", "type": "nominal", "scale": {"domain": ["Low-pRiS", "High-pRiS"], "range": ["#2F62A8", "#F21D1D"]}, "legend": null}
              }
            }
          ]
        },
        {
          "spacing": 8,
          "resolve": {"scale": {"color": "independent"}, "legend": {"color": "independent"}},
          "vconcat": [
            {
              "title": {"text": "f", "anchor": "start", "frame": "group", "dx": -30, "fontSize": 14, "fontWeight": "bold", "offset": -4},
              "width": 166, "height": 124,
              "encoding": {
                "x": {"field": "t", "type": "quantitative", "scale": {"domain": [0, 90], "nice": false}, "axis": {"values": [0,10,20,30,40,50,60,70,80,90], "title": "Time (Months)"}},
                "y": {"field": "s", "type": "quantitative", "scale": {"domain": [0, 1.1], "nice": false}, "axis": {"values": [0,0.2,0.4,0.6,0.8,1], "format": "~g", "title": "Survival Probability"}}
              },
              "layer": [
                {"data": {"name": "km"}, "transform": [{"filter": "datum.p === 'f'"}], "mark": {"type": "line", "interpolate": "step-after", "strokeWidth": 1.5}, "encoding": {"color": {"field": "g", "type": "nominal", "title": "Groups", "scale": {"domain": ["Low-pRiS", "High-pRiS"], "range": ["#2F62A8", "#F21D1D"]}, "legend": {"symbolType": "stroke"}}}},
                {"data": {"name": "cens"}, "transform": [{"filter": "datum.p === 'f'"}], "mark": {"type": "point", "shape": "M0,-1L0,1M-1,0L1,0", "size": 16, "strokeWidth": 1, "filled": false, "opacity": 1}, "encoding": {"color": {"field": "g", "type": "nominal", "title": "Groups", "scale": {"domain": ["Low-pRiS", "High-pRiS"], "range": ["#2F62A8", "#F21D1D"]}, "legend": {"symbolType": "stroke"}}}},
                {"data": {"name": "stats"}, "transform": [{"filter": "datum.p === 'f'"}], "mark": {"type": "text", "align": "left", "baseline": "middle", "fontWeight": "bold", "fontSize": 7, "color": "#111"}, "encoding": {"text": {"field": "label"}}}
              ]
            },
            {
              "width": 166, "height": 26,
              "data": {"name": "risk"}, "transform": [{"filter": "datum.p === 'f'"}],
              "mark": {"type": "text", "fontSize": 8},
              "encoding": {
                "x": {"field": "t", "type": "quantitative", "scale": {"domain": [0, 90], "nice": false}, "axis": null},
                "y": {"field": "g", "type": "nominal", "sort": ["Low-pRiS", "High-pRiS"], "axis": {"title": null, "ticks": false, "offset": 5, "labelFontWeight": "bold", "labelFontSize": 7.5, "labelPadding": 3, "domainColor": "#222", "labelColor": {"condition": {"test": "datum.value === 'Low-pRiS'", "value": "#2F62A8"}, "value": "#F21D1D"}}},
                "text": {"field": "n"},
                "color": {"field": "g", "type": "nominal", "scale": {"domain": ["Low-pRiS", "High-pRiS"], "range": ["#2F62A8", "#F21D1D"]}, "legend": null}
              }
            }
          ]
        }
      ]
    }
  ]
}
